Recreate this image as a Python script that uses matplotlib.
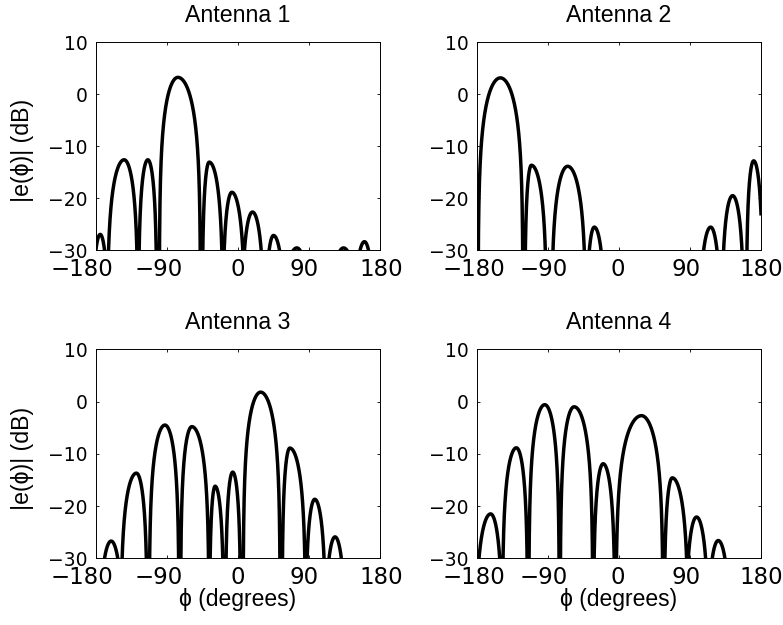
import numpy as np
import matplotlib
matplotlib.use("Agg")
import matplotlib.pyplot as plt
from matplotlib.transforms import ScaledTranslation

# Each lobe: left -30 dB crossing (deg), peak angle (deg),
# peak level (dB), right -30 dB crossing (deg)
ant1_left = [-179.5, -163.5, -124.7, -98.9, -44.0, -16.9, 8.8, 40.1, 71.0, 130.5, 155.4]
ant1_center = [-174.1, -143.7, -113.7, -75.6, -35.9, -7.2, 19.0, 45.6, 75.2, 134.3, 160.9]
ant1_peak = [-27.0, -12.65, -12.65, 3.2, -13.1, -18.9, -22.7, -27.2, -29.6, -29.6, -28.4]
ant1_right = [-168.6, -127.6, -103.1, -47.3, -19.9, 6.7, 30.0, 53.2, 79.0, 138.5, 166.0]

ant2_left = [-178.3, -118.7, -83.7, -37.6, 107.3, 132.6, 162.2]
ant2_center = [-150.4, -111.1, -65.1, -31.3, 116.2, 144.0, 170.7]
ant2_peak = [3.1, -13.7, -13.9, -25.6, -25.6, -19.55, -12.85]
ant2_right = [-122.1, -93.4, -44.0, -22.8, 124.2, 155.9, 181.3]

ant3_left = [-168.6, -146.3, -111.4, -71.8, -34.7, -14.5, 7.4, 57.0, 88.2, 116.0]
ant3_center = [-160.2, -128.2, -92.0, -57.9, -28.4, -6.1, 29.3, 66.3, 97.9, 123.6]
ant3_peak = [-26.7, -13.7, -4.5, -4.8, -16.2, -13.5, 1.8, -8.9, -18.7, -25.9]
ant3_right = [-151.8, -115.6, -74.7, -36.8, -18.7, 3.2, 53.7, 85.3, 109.7, 131.6]

ant4_left = [-177.5, -147.0, -114.0, -74.2, -31.5, -3.2, 58.2, 87.8, 118.2]
ant4_center = [-162.7, -130.1, -94.1, -56.9, -20.1, 28.5, 67.5, 98.3, 125.8]
ant4_peak = [-21.5, -8.85, -0.6, -1.0, -11.9, -2.7, -14.6, -22.1, -26.6]
ant4_right = [-151.2, -116.5, -76.0, -33.6, -6.1, 55.2, 85.7, 109.8, 134.3]

titles = ["Antenna 1", "Antenna 2", "Antenna 3", "Antenna 4"]
xticks = [-180, -90, 0, 90, 180]
yticks = [-30, -20, -10, 0, 10]

# the x tick labels in the original sit a little off-centre (pixels, per column)
xlabel_shift_left = [-14, -7.5, 0, -4.5, 1.5]
xlabel_shift_right = [-3, -4.5, -1.5, -4.3, 0.7]


def pattern(phi, left, center, peak, right):
    # rebuild each lobe as a sine arch in dB through its read-off crossings and peak
    db = np.full_like(phi, -100.0)
    for xl, c, p, xr in zip(left, center, peak, right):
        f = np.arcsin(10 ** ((-30 - p) / 20)) / np.pi
        a = (xl - 2 * f * c) / (1 - 2 * f)
        b = (xr - 2 * f * c) / (1 - 2 * f)
        lobe = np.full_like(phi, -100.0)
        m = (phi > a) & (phi <= c)
        lobe[m] = p + 20 * np.log10(np.sin(np.pi / 2 * (phi[m] - a) / (c - a)))
        m = (phi > c) & (phi < b)
        lobe[m] = p + 20 * np.log10(np.sin(np.pi / 2 * (b - phi[m]) / (b - c)))
        db = np.maximum(db, lobe)
    return db


def minus(t):
    return "\u2212" + str(-t) if t < 0 else str(t)


plt.rcParams["font.family"] = ["Liberation Sans", "DejaVu Sans"]

phi = np.linspace(-180, 180, 3601)
data = [
    (ant1_left, ant1_center, ant1_peak, ant1_right),
    (ant2_left, ant2_center, ant2_peak, ant2_right),
    (ant3_left, ant3_center, ant3_peak, ant3_right),
    (ant4_left, ant4_center, ant4_peak, ant4_right),
]
positions = [
    [0.1220, 0.6000, 0.3627, 0.3328],
    [0.6092, 0.6000, 0.3627, 0.3328],
    [0.1220, 0.1067, 0.3627, 0.3344],
    [0.6092, 0.1067, 0.3627, 0.3344],
]

fig = plt.figure(figsize=(7.83, 6.25), dpi=100)

for i in range(4):
    ax = fig.add_axes(positions[i])
    ax.plot(phi, pattern(phi, *data[i]), color="black", lw=2.5)
    ax.set_xlim(-180, 180)
    ax.set_ylim(-30, 10)
    ax.set_xticks(xticks)
    ax.set_yticks(yticks)
    ax.set_xticklabels([minus(t) for t in xticks])
    ax.set_yticklabels([minus(t) for t in yticks])
    ax.tick_params(direction="in", top=True, right=True, length=2.5, width=0.6,
                   pad=5.8, labelfontfamily="DejaVu Sans")
    ax.tick_params(axis="x", labelsize=16.5)
    ax.tick_params(axis="y", labelsize=13.5)
    shifts = xlabel_shift_left if i % 2 == 0 else xlabel_shift_right
    for lab, dx in zip(ax.get_xticklabels(), shifts):
        lab.set_transform(lab.get_transform() + ScaledTranslation(dx / 100, 0, fig.dpi_scale_trans))
    for s in ax.spines.values():
        s.set_linewidth(0.7)
    ax.set_title(titles[i], fontsize=16.7, pad=14.4)
    if i % 2 == 0:
        ax.set_ylabel("|e(\u03d5)| (dB)", fontsize=16.7)
        ax.yaxis.set_label_coords(-0.218, 0.48)
    if i >= 2:
        ax.set_xlabel("\u03d5 (degrees)", fontsize=16.5, va="top")
        ax.xaxis.set_label_coords(0.5, -0.142)

fig.savefig("out.png", dpi=100)
